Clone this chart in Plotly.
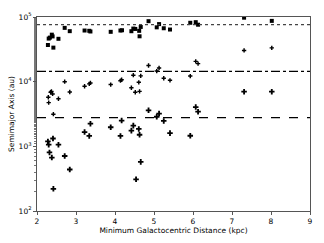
import plotly.graph_objects as go

# Minimum galactocentric distance (kpc) per object
x_sq = [2.28, 2.30, 2.33, 2.38, 2.40, 2.42, 2.55, 2.71, 2.84, 3.22, 3.34, 3.37, 3.89,
        4.14, 4.18, 4.42, 4.47, 4.52, 4.62, 4.63, 4.66, 4.86, 5.07, 5.13, 5.25, 5.41,
        5.93, 6.07, 6.13, 7.31, 8.02]
y_sq = [36900, 46400, 48000, 53300, 50100, 33600, 46000, 67900, 60400, 61800, 61200, 59700, 59000,
        61800, 62400, 60300, 66200, 65400, 61100, 50300, 70200, 86200, 69200, 77700, 67000, 64000,
        81400, 83200, 76000, 97600, 87100]

x_plus = [2.29, 2.30, 2.35, 2.37, 2.40, 2.42, 2.55, 2.71, 2.84, 3.22, 3.34, 3.37, 3.89,
          4.14, 4.17, 4.42, 4.47, 4.52, 4.61, 4.63, 4.66, 4.86, 5.07, 5.13, 5.25, 5.41,
          5.93, 6.07, 6.13, 7.31, 8.02]
y_plus = [5740, 4740, 6860, 7080, 6460, 3140, 5440, 10000, 6920, 8500, 9250, 9550, 9020,
          10350, 10700, 8050, 12600, 6860, 9780, 7080, 12300, 17800, 14600, 16300, 11300, 10500,
          12200, 20600, 19000, 30400, 33300]

x_dia = [2.28, 2.30, 2.32, 2.38, 2.41, 2.42, 2.55, 2.71, 2.84, 3.22, 3.34, 3.37, 3.89,
         4.14, 4.17, 4.42, 4.47, 4.54, 4.61, 4.63, 4.66, 4.86, 5.07, 5.13, 5.25, 5.41,
         5.93, 6.07, 6.13, 7.31, 8.02]
y_dia = [1190, 1060, 806, 670, 1320, 220, 1060, 708, 438, 1660, 1450, 2240, 1970,
         1450, 2500, 1750, 2090, 309, 1860, 1510, 575, 3600, 2870, 3210, 2470, 1600,
         1460, 4050, 3440, 7010, 7010]

# Reference levels (au)
level_dotted = 76000
level_dashdot = 14400
level_dashed = 2770

x_ticks = [2, 3, 4, 5, 6, 7, 8, 9]
x_tick_text = ["2", "3", "4", "5", "6", "7", "8", "9"]
y_ticks = [100, 1000, 10000, 100000]
y_tick_text = ["10<sup>2</sup>", "10<sup>3</sup>", "10<sup>4</sup>", "10<sup>5</sup>"]

fig = go.Figure()
fig.add_trace(go.Scatter(x=x_sq, y=y_sq, mode="markers",
                         marker=dict(symbol="square", size=4, color="black")))
fig.add_trace(go.Scatter(x=x_plus, y=y_plus, mode="markers",
                         marker=dict(symbol="cross", size=3.6, color="black")))
fig.add_trace(go.Scatter(x=x_dia, y=y_dia, mode="markers",
                         marker=dict(symbol="cross", size=4.6, color="black")))

for lvl, dash, col in [(level_dotted, "dot", "#444"), (level_dashdot, "dashdot", "black"),
                       (level_dashed, "dash", "black")]:
    fig.add_shape(type="line", xref="paper", x0=0, x1=1, yref="y", y0=lvl, y1=lvl,
                  line=dict(color=col, width=1.3, dash=dash))

axis_common = dict(showline=True, linecolor="#555", linewidth=1, mirror=True,
                   showgrid=False, zeroline=False, ticks="outside", ticklen=3,
                   tickcolor="#555", tickfont=dict(size=7.5, color="black"))

fig.update_xaxes(range=[2, 9], tickvals=x_ticks, ticktext=x_tick_text,
                 title=dict(text="Minimum Galactocentric Distance (kpc)",
                            font=dict(size=7.5, color="black"), standoff=1),
                 **axis_common)
fig.update_yaxes(type="log", range=[2, 5], tickvals=y_ticks, ticktext=y_tick_text,
                 minor=dict(ticks="outside", ticklen=2, tickcolor="#777"),
                 title=dict(text="Semimajor Axis (au)", font=dict(size=7.5, color="black"), standoff=2),
                 **axis_common)

fig.update_layout(width=324, height=243, margin=dict(l=37, r=11, t=11, b=31),
                  paper_bgcolor="white", plot_bgcolor="white", showlegend=False,
                  font=dict(family="DejaVu Sans", size=7.5, color="black"))

fig.write_html("out.html", config={"displayModeBar": False},
               post_script="document.body.style.margin='0';document.body.style.padding='0';")
